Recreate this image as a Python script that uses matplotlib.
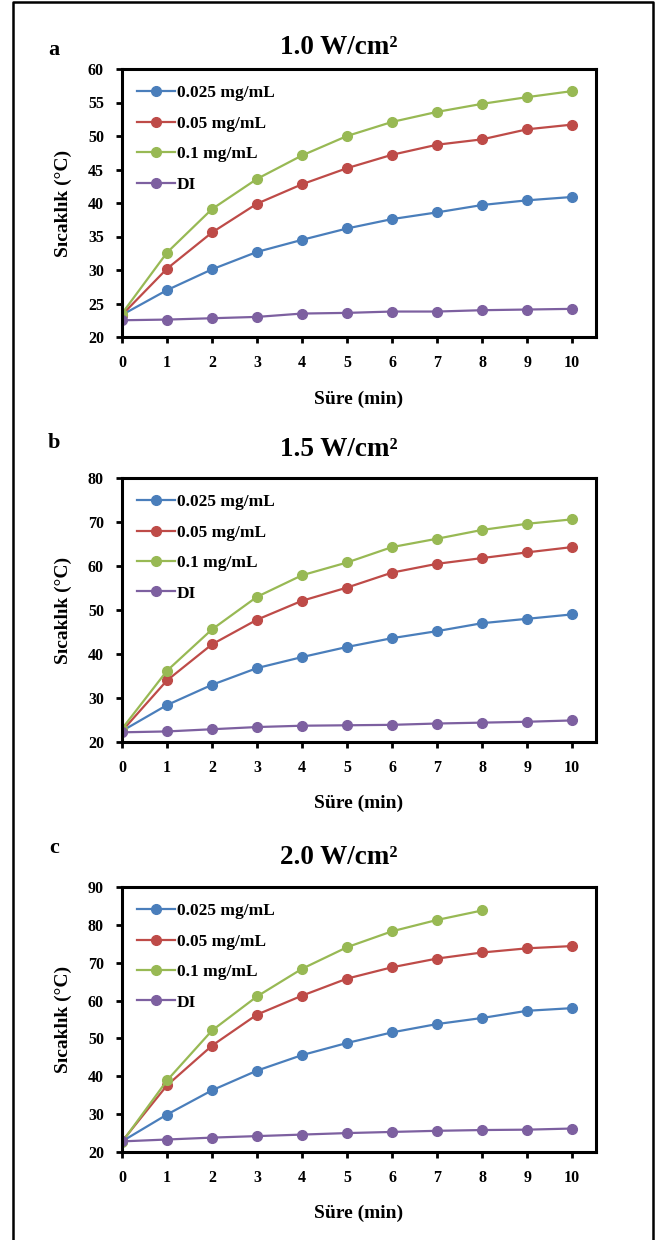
import matplotlib.pyplot as plt
from matplotlib.lines import Line2D
import numpy as np

plt.rcParams.update({"font.family": "Liberation Serif", "font.weight": "bold"})

# ----------------------------------------------------------------------
# Data

times = [0, 1, 2, 3, 4, 5, 6, 7, 8, 9, 10]
series_names = ["0.025 mg/mL", "0.05 mg/mL", "0.1 mg/mL", "DI"]
colors = ["#4A7EBB", "#BE4B48", "#98B954", "#7D60A0"]

# panel a : 1.0 W/cm2
a_025 = [23.3, 27.0, 30.1, 32.7, 34.5, 36.2, 37.6, 38.6, 39.7, 40.4, 40.9]
a_05 = [23.3, 30.2, 35.6, 39.9, 42.8, 45.2, 47.2, 48.7, 49.5, 51.0, 51.7]
a_1 = [23.5, 32.6, 39.1, 43.6, 47.1, 50.0, 52.1, 53.6, 54.8, 55.8, 56.7]
a_di = [22.5, 22.6, 22.8, 23.0, 23.5, 23.6, 23.8, 23.8, 24.0, 24.1, 24.2]

# panel b : 1.5 W/cm2
b_025 = [22.5, 28.4, 33.0, 36.8, 39.3, 41.6, 43.6, 45.2, 47.0, 48.0, 49.0]
b_05 = [22.5, 34.0, 42.2, 47.8, 52.1, 55.1, 58.5, 60.5, 61.8, 63.1, 64.3]
b_1 = [23.0, 36.2, 45.6, 53.0, 57.9, 60.8, 64.3, 66.2, 68.2, 69.6, 70.6]
b_di = [22.2, 22.4, 22.9, 23.4, 23.7, 23.8, 23.9, 24.2, 24.4, 24.6, 24.9]

# panel c : 2.0 W/cm2 (0.1 mg/mL stops at 8 min)
c_025 = [22.8, 29.9, 36.3, 41.5, 45.6, 48.8, 51.6, 53.8, 55.4, 57.3, 58.0]
c_05 = [22.8, 37.6, 48.1, 56.3, 61.3, 65.8, 68.8, 71.1, 72.7, 73.8, 74.4]
c_1 = [22.6, 38.9, 52.1, 61.1, 68.4, 74.1, 78.3, 81.3, 83.8]
c_di = [22.8, 23.3, 23.8, 24.2, 24.6, 25.0, 25.3, 25.6, 25.8, 25.9, 26.2]

panel_letters = ["a", "b", "c"]
panel_titles = ["1.0 W/cm²", "1.5 W/cm²", "2.0 W/cm²"]
panel_data = [
    [a_025, a_05, a_1, a_di],
    [b_025, b_05, b_1, b_di],
    [c_025, c_05, c_1, c_di],
]
panel_ymax = [60, 80, 90]
panel_ystep = [5, 10, 10]

# ----------------------------------------------------------------------

W, H = 660, 1240
fig = plt.figure(figsize=(W / 100, H / 100), dpi=100)

# axes boxes in pixels: (left, top, right, bottom)
boxes = [(122, 69, 596, 337), (122, 478, 596, 742), (122, 887, 596, 1152)]
# title and letter heights in pixels
title_y = [47, 450, 858]
letter_y = [50, 443, 848]

for i, (l, t, r, b) in enumerate(boxes):
    ax = fig.add_axes([l / W, 1 - b / H, (r - l) / W, (b - t) / H])
    for vals, name, col in zip(panel_data[i], series_names, colors):
        ax.plot(times[:len(vals)], vals, color=col, lw=1.6, marker="o", ms=7,
                label=name)
    ax.set_xlim(0, 10.53)
    ax.set_ylim(20, panel_ymax[i])
    ax.set_xticks(times)
    ax.set_yticks(np.arange(20, panel_ymax[i] + 1, panel_ystep[i]))
    ax.tick_params(direction="out", length=4, width=2, labelsize=11.5)
    ax.tick_params(axis="x", pad=9)
    ax.tick_params(axis="y", pad=9)
    for s in ax.spines.values():
        s.set_linewidth(2.2)
    ax.set_xlabel("Süre (min)", fontsize=14, fontweight="bold")
    ax.xaxis.set_label_coords(0.5, -0.2)
    ax.set_ylabel("Sıcaklık (°C)", fontsize=14, fontweight="bold")
    ax.yaxis.set_label_coords(-0.105, 0.5)
    ax.legend(loc="upper left", frameon=False, fontsize=12.5, handlelength=2.2,
              handletextpad=0.1, labelspacing=0.82, borderaxespad=0.2,
              bbox_to_anchor=(0.01, 0.978))
    fig.text(339 / W, 1 - title_y[i] / H, panel_titles[i], fontsize=19.5,
             fontweight="bold", ha="center", va="center")
    fig.text(54 / W, 1 - letter_y[i] / H, panel_letters[i], fontsize=16,
             fontweight="bold", ha="center", va="center")

# outer frame round the whole figure (no bottom edge)
frame_x = [13 / W, 13 / W, 653 / W, 653 / W]
frame_y = [0, 1 - 2 / H, 1 - 2 / H, 0]
fig.add_artist(Line2D(frame_x, frame_y, color="black", lw=1.8))

plt.savefig("out.png", dpi=100)
